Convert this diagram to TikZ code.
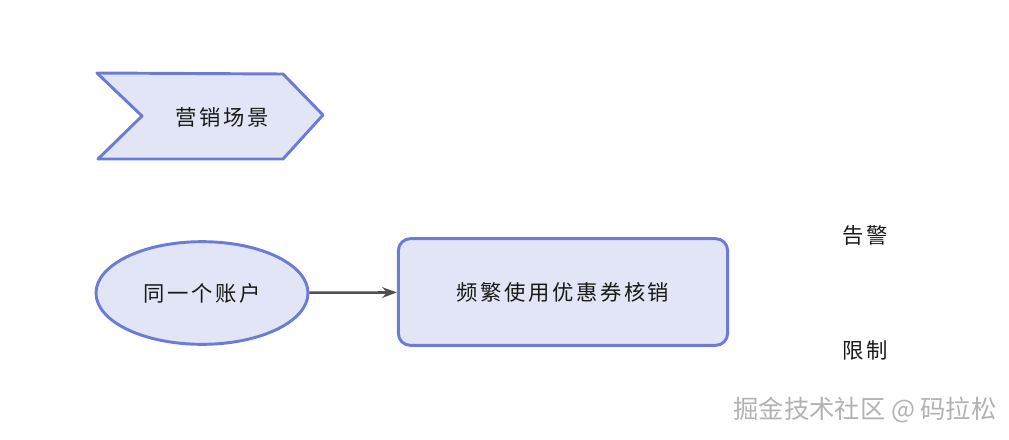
\documentclass[tikz,border=0pt]{standalone}
\usepackage{fontspec}
\newfontfamily\cjk[LetterSpace=12]{Noto Sans CJK SC}
\newfontfamily\cjkmark{Noto Sans CJK SC}
\usetikzlibrary{shapes.geometric, arrows.meta}
\definecolor{edgeblue}{RGB}{108,124,214}
\definecolor{fillblue}{RGB}{225,229,246}
\definecolor{arrowgray}{RGB}{80,80,80}
\definecolor{inkgray}{RGB}{25,25,25}

\begin{document}
\begin{tikzpicture}[x=0.75pt, y=-0.75pt,
  shape line/.style={draw=edgeblue, fill=fillblue, line width=2.2pt, line join=round},
  label text/.style={font=\cjk\fontsize{16}{19}\selectfont, text=inkgray},
  flow arrow/.style={-{Stealth[length=11pt, width=8pt]}, line width=1.9pt, draw=arrowgray}]
  \useasboundingbox (0,0) rectangle (1009,439);

  % Marketing scene chevron
  \draw[shape line] (97,73) -- (283,74) -- (323,115) -- (283,159) -- (98,159) -- (142,116) -- cycle;
  \node[label text] (scene) at (222,117) {营销场景};

  % Same account
  \node[shape line, ellipse, minimum width=159pt, minimum height=77pt, label text] (account) at (202,293) {同一个账户};

  % Frequent coupon redemption
  \node[shape line, rectangle, rounded corners=9pt, minimum width=247pt, minimum height=80pt, label text] (redeem) at (563,292) {频繁使用优惠券核销};

  \draw[flow arrow] (account) -- (redeem);

  % Outcomes
  \node[label text] (alert) at (865,235) {告警};
  \node[label text] (limit) at (865,350) {限制};

  % Watermark
  \node[font=\cjkmark\fontsize{19}{22}\selectfont, text=gray!60] (mark) at (865,410) {掘金技术社区 @ 码拉松};
\end{tikzpicture}
\end{document}
